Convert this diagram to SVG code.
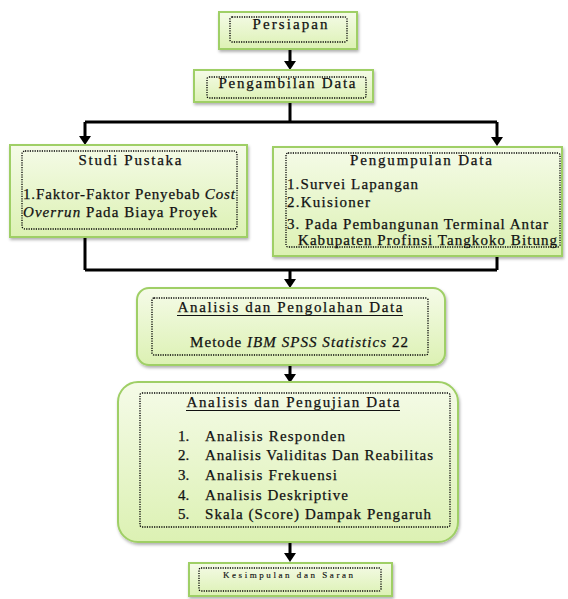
<svg xmlns="http://www.w3.org/2000/svg" width="568" height="599" viewBox="0 0 568 599">
<defs>
<linearGradient id="g" x1="0" y1="0" x2="0" y2="1">
<stop offset="0" stop-color="#f5fbe8"/>
<stop offset="1" stop-color="#dcf1b3"/>
</linearGradient>
<filter id="sh" x="-10%" y="-20%" width="120%" height="150%">
<feDropShadow dx="1" dy="2" stdDeviation="1.5" flood-color="#000" flood-opacity="0.3"/>
</filter>
</defs>
<style>
.box{fill:url(#g);stroke:#9fcf66;stroke-width:2;filter:url(#sh)}
.in{fill:none;stroke:#000;stroke-width:1.3;stroke-dasharray:1.2 1.2}
text{font-family:'Liberation Serif','DejaVu Serif',serif;font-size:15px;fill:#111;stroke:#111;stroke-width:0.25}
.c{text-anchor:middle}
.ul{stroke:#111;stroke-width:1.2}
.ln{fill:none;stroke:#000;stroke-width:3}
</style>
<g id="connectors">
<path class="ln" d="M290,50 V62"/><path d="M284,61 L296,61 L290,70 Z"/>
<path class="ln" d="M290,102 V122 M85,122 H497 M85,122 V137 M497,122 V138"/>
<path d="M79,136 L91,136 L85,145 Z"/><path d="M491,137 L503,137 L497,146 Z"/>
<path class="ln" d="M85,237 V270 M497,256 V270 M85,270 H497 M290,270 V280"/>
<path d="M284,279 L296,279 L290,288 Z"/>
<path class="ln" d="M290,365 V375"/><path d="M284,374 L296,374 L290,383 Z"/>
<path class="ln" d="M290,542 V554"/><path d="M284,553 L296,553 L290,562 Z"/>
</g>
<g id="persiapan">
<rect class="box" x="219" y="12" width="138" height="37"/>
<rect class="in" x="230" y="17" width="117" height="25" rx="2"/>
<text class="c" x="290" y="29" textLength="75" lengthAdjust="spacing">Persiapan</text>
</g>
<g id="pengambilan">
<rect class="box" x="194" y="70" width="179" height="32"/>
<rect class="in" x="207" y="77" width="159" height="21" rx="2"/>
<text class="c" x="287" y="88" textLength="137" lengthAdjust="spacing">Pengambilan Data</text>
</g>
<g id="studi">
<rect class="box" x="10" y="145" width="237" height="92"/>
<rect class="in" x="22" y="151" width="215" height="78" rx="3"/>
<text class="c" x="130" y="165" textLength="103" lengthAdjust="spacing">Studi Pustaka</text>
<text x="23" y="199" textLength="212" lengthAdjust="spacing">1.Faktor-Faktor Penyebab <tspan font-style="italic">Cost</tspan></text>
<text x="23" y="217" textLength="194" lengthAdjust="spacing"><tspan font-style="italic">Overrun</tspan> Pada Biaya Proyek</text>
</g>
<g id="pengumpulan">
<rect class="box" x="273" y="147" width="289" height="109"/>
<rect class="in" x="286" y="153" width="274" height="94" rx="2"/>
<text class="c" x="421" y="165" textLength="142" lengthAdjust="spacing">Pengumpulan Data</text>
<text x="287" y="189" textLength="131" lengthAdjust="spacing">1.Survei Lapangan</text>
<text x="287" y="207" textLength="83" lengthAdjust="spacing">2.Kuisioner</text>
<text x="287" y="229" textLength="261" lengthAdjust="spacing">3. Pada  Pembangunan Terminal Antar</text>
<text x="298" y="245" textLength="259" lengthAdjust="spacing">Kabupaten Profinsi Tangkoko Bitung</text>
</g>
<g id="pengolahan">
<rect class="box" x="137" y="288" width="308" height="77" rx="12"/>
<rect class="in" x="152" y="298" width="276" height="57" rx="2"/>
<text class="c" x="290" y="312" textLength="225" lengthAdjust="spacing">Analisis dan Pengolahan Data</text>
<line class="ul" x1="177" y1="315.5" x2="403" y2="315.5"/>
<text x="190" y="347" textLength="218" lengthAdjust="spacing">Metode <tspan font-style="italic">IBM SPSS Statistics</tspan> 22</text>
</g>
<g id="pengujian">
<rect class="box" x="118" y="382" width="340" height="160" rx="20"/>
<rect class="in" x="140" y="393" width="310" height="134" rx="2"/>
<text class="c" x="293" y="407" textLength="213" lengthAdjust="spacing">Analisis dan Pengujian Data</text>
<line class="ul" x1="186" y1="410.5" x2="400" y2="410.5"/>
<text x="178" y="441">1.</text><text x="205" y="441" textLength="140" lengthAdjust="spacing">Analisis Responden</text>
<text x="178" y="460">2.</text><text x="205" y="460" textLength="228" lengthAdjust="spacing">Analisis Validitas Dan Reabilitas</text>
<text x="178" y="480">3.</text><text x="205" y="480" textLength="132" lengthAdjust="spacing">Analisis Frekuensi</text>
<text x="178" y="500">4.</text><text x="205" y="500" textLength="143" lengthAdjust="spacing">Analisis Deskriptive</text>
<text x="178" y="519">5.</text><text x="205" y="519" textLength="226" lengthAdjust="spacing">Skala (Score) Dampak Pengaruh</text>
</g>
<g id="kesimpulan">
<rect class="box" x="189" y="563" width="203" height="33"/>
<rect class="in" x="199" y="568" width="182" height="23" rx="2"/>
<text class="c" x="288" y="578" style="font-size:9px;stroke-width:0.15" textLength="130" lengthAdjust="spacing">Kesimpulan dan Saran</text>
</g>
</svg>
